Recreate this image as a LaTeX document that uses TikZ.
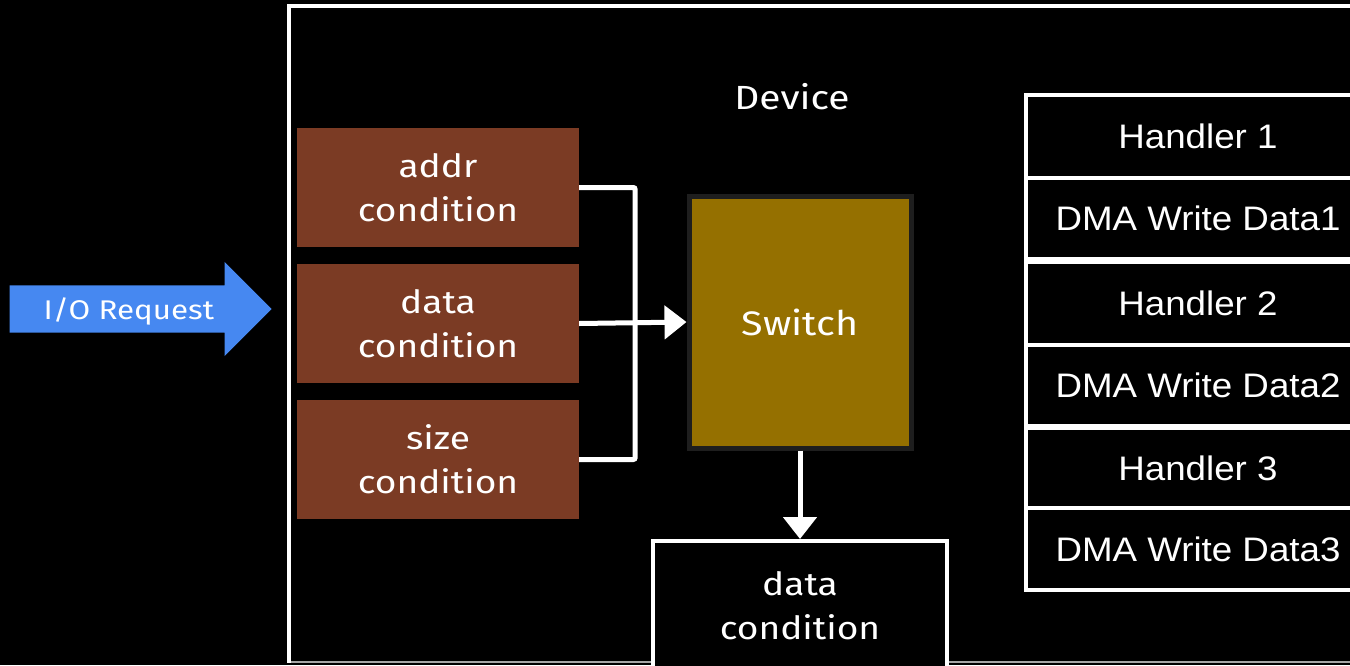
\documentclass[tikz,border=0pt]{standalone}
\usepackage{fontspec}
\setmainfont{Fira Sans}[FakeStretch=1.16]
\newfontfamily\tblfont{Liberation Sans}[FakeStretch=1.08]
\definecolor{condbrown}{RGB}{123,59,36}
\definecolor{swgold}{RGB}{149,112,0}
\definecolor{swedge}{RGB}{30,30,30}
\definecolor{reqblue}{RGB}{70,136,241}
\usetikzlibrary{arrows.meta,positioning,shapes.arrows}

\begin{document}
\begin{tikzpicture}[x=1pt,y=-1pt,
  condbox/.style={fill=condbrown,minimum width=282pt,minimum height=119pt,
    align=center,text=white,font=\fontsize{32}{44}\selectfont,inner sep=0pt},
  hdlcell/.style={draw=white,line width=4pt,fill=black,minimum width=344pt,
    anchor=west,text=white,font=\tblfont\fontsize{34}{38}\selectfont,inner sep=0pt},
  wire/.style={white,line width=5pt,rounded corners=2pt},
  wirearr/.style={wire,-{Triangle[width=33pt,length=22pt]}}
]
  \useasboundingbox (0,0) rectangle (1350,665);
  \clip (0,0) rectangle (1350,665);
  \fill[black] (0,0) rectangle (1350,665);

  % Device frame
  \draw[gray!70,line width=1.5pt] (289,662) -- (1350,662);
  \draw[white,line width=4pt] (1352,6) -- (289,6) -- (289,663);
  \node[text=white,font=\fontsize{33.5}{38}\selectfont] (dev) at (792,97) {Device};

  % I/O request arrow
  \node[single arrow,fill=reqblue,single arrow head extend=23.5pt,
    minimum height=262pt,minimum width=94pt,text height=22pt,text depth=1pt,
    inner ysep=12pt,inner xsep=0pt,text=white,font=\fontsize{27}{30}\selectfont,
    anchor=tip] (req) at (272,309) {I/O Request};

  % Conditions
  \node[condbox] (addr) at (438,187.5) {addr\\condition};
  \node[condbox] (data) at (438,323.5) {data\\condition};
  \node[condbox] (size) at (438,459.5) {size\\condition};

  % Switch
  \node[fill=swgold,draw=swedge,line width=5pt,minimum width=222pt,minimum height=252pt,
    text=white,font=\fontsize{34}{38}\selectfont] (sw) at (800,322) {Switch};

  % Result box
  \node[draw=white,line width=4pt,fill=black,minimum width=294pt,minimum height=130pt,
    align=center,text=white,font=\fontsize{32}{44}\selectfont,inner sep=0pt]
    (dc) at (800,606) {data\\condition};

  % Connectors
  \draw[wire] (addr.east) -- ++(56,0) |- (size.east);
  \draw[wirearr] (data.east) -- (sw.west);
  \draw[wirearr] (sw.south) -- (dc.north);

  % Handler table
  \node[hdlcell,minimum height=83pt] (h1) at (1024,136.5) {Handler 1};
  \node[hdlcell,minimum height=81pt] (d1) at (1024,218.5) {DMA Write Data1};
  \node[hdlcell,minimum height=83pt] (h2) at (1024,303.5) {Handler 2};
  \node[hdlcell,minimum height=81pt] (d2) at (1024,385.5) {DMA Write Data2};
  \node[hdlcell,minimum height=80pt] (h3) at (1024,468) {Handler 3};
  \node[hdlcell,minimum height=82pt] (d3) at (1024,549) {DMA Write Data3};
\end{tikzpicture}
\end{document}
